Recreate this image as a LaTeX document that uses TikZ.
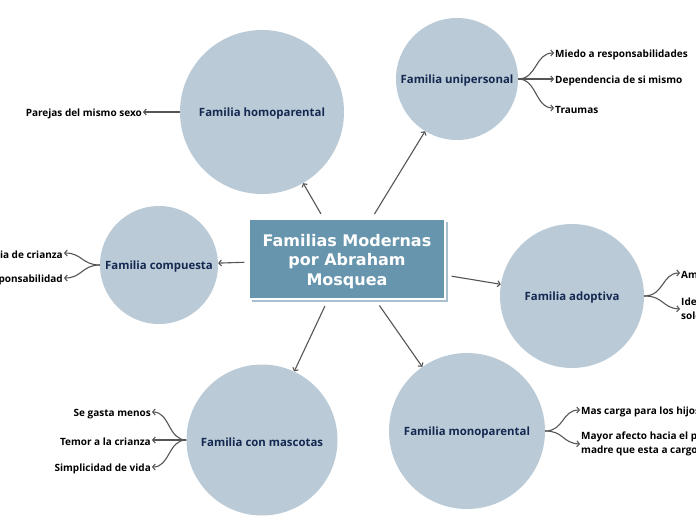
\documentclass[tikz,border=0pt]{standalone}
\usepackage{fontspec}
\setmainfont{Open Sans}
\newfontfamily\titlefont{DejaVu Sans}
\usetikzlibrary{arrows.meta}
\definecolor{circ}{HTML}{BACBD7}
\definecolor{boxc}{HTML}{6895AE}
\definecolor{shad}{HTML}{A9BFCE}
\definecolor{navy}{HTML}{142850}
\definecolor{linec}{HTML}{555555}
\tikzset{
 topic/.style={circle, fill=circ, inner sep=0pt, font=\bfseries\fontsize{11.4}{13}\selectfont, text=navy, execute at begin node={\rule{0pt}{12.5pt}}},
 leafr/.style={anchor=west, font=\bfseries\fontsize{10}{14}\selectfont, inner sep=1pt, align=left, text=black, execute at begin node={\rule{0pt}{10.5pt}}},
 leafl/.style={anchor=east, font=\bfseries\fontsize{10}{14}\selectfont, inner sep=1pt, align=right, text=black, execute at begin node={\rule{0pt}{10.5pt}}},
 conn/.style={draw=linec, line width=1.1pt, -{Straight Barb[length=2.5pt,width=6pt]}},
 central/.style={rectangle, fill=boxc, draw=white, line width=1.5pt, minimum width=196pt, minimum height=80pt, align=center, text=white, font=\titlefont\bfseries\fontsize{16}{19.5}\selectfont},
 shadowbox/.style={rectangle, fill=shad, minimum width=196pt, minimum height=80pt, inner sep=0pt}
}
\begin{document}
\begin{tikzpicture}[x=1pt,y=-1pt]
\useasboundingbox (0,0) rectangle (696,520);
\fill[white] (0,0) rectangle (696,520);
% topics
\node[topic, minimum size=164pt] (homo) at (262,112) {Familia homoparental};
\node[topic, minimum size=122pt] (uni) at (457,79) {Familia unipersonal};
\node[topic, minimum size=118pt] (comp) at (159,265) {Familia compuesta};
\node[topic, minimum size=144pt] (adop) at (572,296) {Familia adoptiva};
\node[topic, minimum size=151pt] (masc) at (262,440) {Familia con mascotas};
\node[topic, minimum size=156pt] (mono) at (467,431) {Familia monoparental};
% central
\node[shadowbox] (csh) at (350,262) {};
\node[central] (c) at (347,259) {\rule{0pt}{16.5pt}Familias Modernas\\por Abraham\\Mosquea};
% main connectors
\draw[conn, shorten <=5pt] (c) -- (homo);
\draw[conn, shorten <=5pt] (c) -- (uni);
\draw[conn, shorten <=4pt] (c) -- (comp);
\draw[conn, shorten <=6pt] (c) -- (adop);
\draw[conn, shorten <=7pt] (c) -- (masc);
\draw[conn, shorten <=7pt] (c) -- (mono);
% homoparental leaves
\node[leafl] (h1) at (143,112) {Parejas del mismo sexo};
\draw[conn] (homo.west) -- (h1.east);
% unipersonal leaves
\node[leafr] (u1) at (554,53) {Miedo a responsabilidades};
\node[leafr] (u2) at (554,79) {Dependencia de si mismo};
\node[leafr] (u3) at (554,108) {Traumas};
\draw[conn] (uni.east) .. controls (537,79) and (535,53) .. (u1.west);
\draw[conn] (uni.east) -- (u2.west);
\draw[conn] (uni.east) .. controls (537,79) and (535,108) .. (u3.west);
% compuesta leaves
\node[leafl] (k1) at (64,253) {Diferencia de crianza};
\node[leafl] (k2) at (64,278) {Responsabilidad};
\draw[conn] (comp.west) .. controls (82,265) and (82,253) .. (k1.east);
\draw[conn] (comp.west) .. controls (82,265) and (82,278) .. (k2.east);
% adoptiva leaves
\node[leafr] (a1) at (680,273) {Amor};
\node[leafr] (a2) at (680,309) {Identidad\\soledad};
\draw[conn] (adop.east) .. controls (664,296) and (662,273) .. (a1.west);
\draw[conn] (adop.east) .. controls (664,296) and (662,308) .. (a2.west);
% monoparental leaves
\node[leafr] (m1) at (580,410) {Mas carga para los hijos};
\node[leafr] (m2) at (580,444) {Mayor afecto hacia el padre o\\madre que esta a cargo};
\draw[conn] (mono.east) .. controls (564,431) and (562,410) .. (m1.west);
\draw[conn] (mono.east) .. controls (564,431) and (562,443) .. (m2.west);
% mascotas leaves
\node[leafl] (p1) at (152,412) {Se gasta menos};
\node[leafl] (p2) at (152,440) {Temor a la crianza};
\node[leafl] (p3) at (152,467) {Simplicidad de vida};
\draw[conn] (masc.west) .. controls (168,440) and (170,412) .. (p1.east);
\draw[conn] (masc.west) -- (p2.east);
\draw[conn] (masc.west) .. controls (168,440) and (170,467) .. (p3.east);
\end{tikzpicture}
\end{document}
